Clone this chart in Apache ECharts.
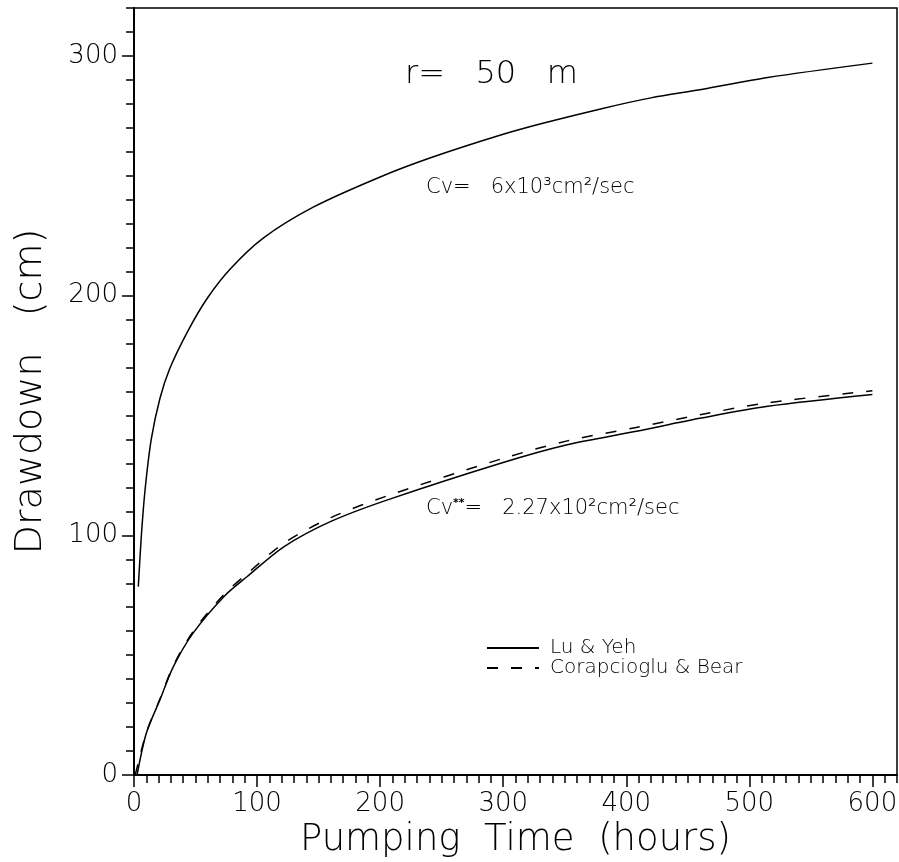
<!DOCTYPE html>
<html><head><meta charset="utf-8">
<script src="https://cdn.jsdelivr.net/npm/echarts@6/dist/echarts.min.js"></script>
<style>html,body{margin:0;padding:0;background:#fff}#c{width:899px;height:862px}</style>
</head><body><div id="c"></div>
<script>
// ---- data ----
const xMajorTicks = [0, 100, 200, 300, 400, 500, 600];
const yMajorTicks = [0, 100, 200, 300];

// Lu & Yeh, Cv = 6x10^3 cm^2/sec
const timeUpper = [3.5, 6, 9, 14, 21, 29, 43, 59, 78, 105, 146, 200, 241, 298, 333, 380, 420, 461, 515, 600];
const drawUpper = [78.6, 100, 119, 140, 157, 169.5, 184.5, 198.5, 211, 224, 237, 249.5, 257.5, 267, 272, 278, 282.5, 286, 291, 297];

// Lu & Yeh, Cv** = 2.27x10^2 cm^2/sec
const timeLower = [2.5, 10, 21, 32, 48, 73, 92, 122, 160, 206, 298, 352, 407, 461, 515, 600];
const drawLower = [0, 17.4, 31.3, 45.2, 59.2, 74.4, 82.8, 95.3, 105.8, 114.8, 130.1, 137.8, 143.3, 148.9, 153.8, 158.7];

// Corapcioglu & Bear, Cv** = 2.27x10^2 cm^2/sec
const timeCB = [1, 10, 21, 32, 48, 73, 92, 122, 160, 206, 298, 352, 407, 461, 515, 600];
const drawCB = [0, 17.6, 31.6, 45.6, 59.8, 75.3, 84.0, 96.8, 107.4, 116.5, 131.8, 139.4, 144.9, 150.4, 155.3, 160.3];

const seriesNames = ['Lu & Yeh', 'Corapcioglu & Bear'];

// ---- chart ----
const FONT = 'DejaVu Sans';
const W = 200;
const pairs = (xs, ys) => xs.map((x, i) => [x, ys[i]]);
const chart = echarts.init(document.getElementById('c'), null, {renderer: 'canvas'});
const lineBase = {type: 'line', symbol: 'none', showSymbol: false, smooth: 0.3, xAxisIndex: 0, yAxisIndex: 0, animation: false};

chart.setOption({
  backgroundColor: '#fff',
  animation: false,
  grid: {left: 134, right: 2, top: 8, bottom: 87, show: true, borderColor: '#000', borderWidth: 1.5, outerBoundsMode: 'none', containLabel: false},
  xAxis: [{
    type: 'value', min: 0, max: 620, interval: 100, position: 'bottom',
    name: 'Pumping  Time  (hours)', nameLocation: 'middle', nameGap: 40,
    nameTextStyle: {fontFamily: FONT, fontWeight: W, fontSize: 37, color: '#000'},
    axisLine: {show: true, onZero: false, lineStyle: {color: '#000', width: 2}},
    axisTick: {show: true, inside: false, length: 12, customValues: xMajorTicks, lineStyle: {color: '#000', width: 1.5}},
    axisLabel: {show: true, customValues: xMajorTicks, margin: 16, fontFamily: FONT, fontWeight: W, fontSize: 26, color: '#000'},
    splitLine: {show: false}
  }, {
    type: 'value', min: 0, max: 620, interval: 10, position: 'bottom', offset: 0,
    axisLine: {show: false},
    axisTick: {show: true, inside: false, length: 8, lineStyle: {color: '#000', width: 1.5}},
    axisLabel: {show: false}, splitLine: {show: false}
  }],
  yAxis: [{
    type: 'value', min: 0, max: 320, interval: 100, position: 'left',
    name: 'Drawdown   (cm)', nameLocation: 'middle', nameGap: 84, nameRotate: 90,
    nameTextStyle: {fontFamily: FONT, fontWeight: W, fontSize: 38, color: '#000'},
    axisLine: {show: true, onZero: false, lineStyle: {color: '#000', width: 2}},
    axisTick: {show: true, inside: false, length: 12, customValues: yMajorTicks, lineStyle: {color: '#000', width: 1.5}},
    axisLabel: {show: true, customValues: yMajorTicks, margin: 16, fontFamily: FONT, fontWeight: W, fontSize: 26, color: '#000'},
    splitLine: {show: false}
  }, {
    type: 'value', min: 0, max: 320, interval: 10, position: 'left', offset: 0,
    axisLine: {show: false},
    axisTick: {show: true, inside: false, length: 8, lineStyle: {color: '#000', width: 1.5}},
    axisLabel: {show: false}, splitLine: {show: false}
  }],
  legend: {
    data: seriesNames, orient: 'vertical', left: 486, top: 638, itemWidth: 52, itemHeight: 14, itemGap: 0,
    padding: 0,
    itemStyle: {color: 'rgba(0,0,0,0)', borderColor: 'rgba(0,0,0,0)', borderWidth: 0, opacity: 0},
    textStyle: {fontFamily: FONT, fontWeight: W, fontSize: 20, color: '#000', padding: [0, 0, 0, 6]}
  },
  series: [
    Object.assign({}, lineBase, {name: seriesNames[0], data: pairs(timeUpper, drawUpper), lineStyle: {color: '#000', width: 1.5, type: 'solid'}, itemStyle: {color: '#000'}}),
    Object.assign({}, lineBase, {name: seriesNames[0], data: pairs(timeLower, drawLower), lineStyle: {color: '#000', width: 1.5, type: 'solid'}, itemStyle: {color: '#000'}}),
    Object.assign({}, lineBase, {name: seriesNames[1], data: pairs(timeCB, drawCB), lineStyle: {color: '#000', width: 1.5, type: [11, 13]}, itemStyle: {color: '#000'}})
  ],
  graphic: [
    {type: 'text', left: 405, top: 59, style: {text: 'r=   50   m', font: W + ' 32px "' + FONT + '"', fill: '#000'}},
    {type: 'text', left: 426, top: 177, style: {text: 'Cv=   6x10³cm²/sec', font: W + ' 21px "' + FONT + '"', fill: '#000'}},
    {type: 'text', left: 426, top: 498, style: {
      text: '{a|Cv}{s|**}{a|=   2.27x10²cm²/sec}',
      rich: {
        a: {fontFamily: FONT, fontWeight: W, fontSize: 21, fill: '#000', color: '#000'},
        s: {fontFamily: FONT, fontWeight: 'bold', fontSize: 11, fill: '#000', color: '#000', verticalAlign: 'top', padding: [0, 0, 10, 0]}
      }
    }}
  ]
});
</script>
</body></html>
